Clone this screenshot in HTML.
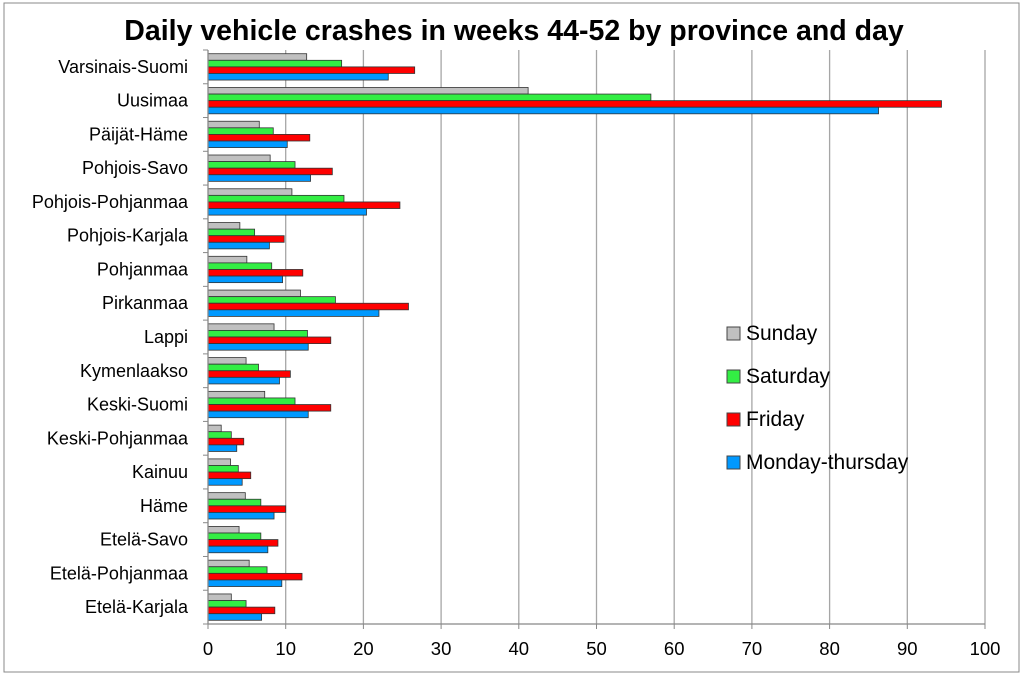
<!DOCTYPE html>
<html><head><meta charset="utf-8"><style>
body{margin:0;background:#fff;}
svg{display:block;font-family:"Liberation Sans",sans-serif;}
</style></head><body>
<svg id="chart" width="1024" height="677">
<rect x="4" y="3" width="1015" height="669" fill="#fff" stroke="#888"/>
<text x="514" y="40" text-anchor="middle" font-size="28.5" font-weight="bold" fill="#000">Daily vehicle crashes in weeks 44-52 by province and day</text>
<g id="grid"></g><g id="bars"></g><g id="axes"></g><g id="legend"></g>
</svg>
<script>
const categories=["Varsinais-Suomi","Uusimaa","Päijät-Häme","Pohjois-Savo","Pohjois-Pohjanmaa","Pohjois-Karjala","Pohjanmaa","Pirkanmaa","Lappi","Kymenlaakso","Keski-Suomi","Keski-Pohjanmaa","Kainuu","Häme","Etelä-Savo","Etelä-Pohjanmaa","Etelä-Karjala"];
const sunday=[12.7,41.2,6.6,8.0,10.8,4.1,5.0,11.9,8.5,4.9,7.3,1.7,2.9,4.8,4.0,5.3,3.0];
const saturday=[17.2,57.0,8.4,11.2,17.5,6.0,8.2,16.4,12.8,6.5,11.2,3.0,3.9,6.8,6.8,7.6,4.9];
const friday=[26.6,94.4,13.1,16.0,24.7,9.8,12.2,25.8,15.8,10.6,15.8,4.6,5.5,10.0,9.0,12.1,8.6];
const monThu=[23.2,86.3,10.2,13.2,20.4,7.9,9.6,22.0,12.9,9.2,12.9,3.7,4.4,8.5,7.7,9.5,6.9];
const xTicks=[0,10,20,30,40,50,60,70,80,90,100];
const seriesNames=["Sunday","Saturday","Friday","Monday-thursday"];
const seriesKeys=["sunday","saturday","friday","monday-thursday"];

const NS="http://www.w3.org/2000/svg";
const L=208,R=985,T=50,B=624;
const xs=v=>L+(v/100)*(R-L);
const band=(B-T)/categories.length;
const series=[sunday,saturday,friday,monThu];
const colors=["#c0c0c0","#33ee44","#ff0000","#0099ff"];
function mk(tag,attrs,parent){const e=document.createElementNS(NS,tag);for(const k in attrs)e.setAttribute(k,attrs[k]);parent.appendChild(e);return e;}
const grid=document.getElementById('grid'),barsG=document.getElementById('bars'),axes=document.getElementById('axes'),leg=document.getElementById('legend');
xTicks.forEach(t=>{
  if(t>0){const g=mk('line',{x1:xs(t),x2:xs(t),y1:T,y2:B,stroke:'#a6a6a6','stroke-width':1.3},grid);
  
  }
  const tk=mk('line',{x1:xs(t),x2:xs(t),y1:B,y2:B+5,stroke:'#888'},axes);
  
  
  const tx=mk('text',{x:xs(t),y:B+31,'text-anchor':'middle','font-size':18.5,fill:'#000'},axes);
  tx.textContent=t;
  
  
});
const bh=band*0.195,pad=band*0.11;
categories.forEach((c,i)=>{
  const y0=T+i*band;
  series.forEach((s,j)=>{
    const r=mk('rect',{x:xs(0),y:y0+pad+j*bh,width:xs(s[i])-xs(0),height:bh,fill:colors[j],stroke:'#333','stroke-width':0.8},barsG);
    
    
  });
  const tk=mk('line',{x1:L-5,x2:L,y1:y0,y2:y0,stroke:'#888'},axes);
  
  
  const tx=mk('text',{x:188,y:y0+band/2+6,'text-anchor':'end','font-size':18,fill:'#000'},axes);
  tx.textContent=c;
  
  
});
const yl=mk('line',{x1:L,x2:L-5,y1:B,y2:B,stroke:'#888'},axes);


const ya=mk('line',{x1:L,x2:L,y1:T,y2:B,stroke:'#888','stroke-width':1.3},axes);


const xa=mk('line',{x1:L,x2:R,y1:B,y2:B,stroke:'#888','stroke-width':1.3},axes);


seriesNames.forEach((n,j)=>{
  const y=333+j*43;
  const r=mk('rect',{x:727,y:y-6,width:13,height:13,fill:colors[j],stroke:'#444'},leg);
  
  
  const t=mk('text',{x:746,y:y+7,'font-size':21,fill:'#000'},leg);
  t.textContent=n;
  
  
});
</script>
</body></html>
